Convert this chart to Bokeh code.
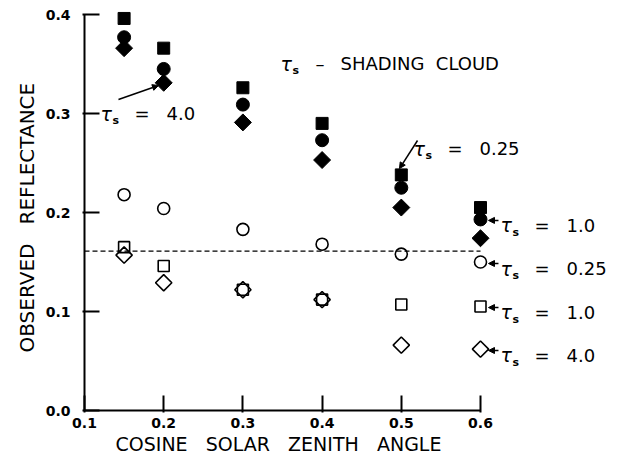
import numpy as np
from bokeh.plotting import figure
from bokeh.models import Range1d, FixedTicker, PrintfTickFormatter, Label, Arrow, NormalHead, Title
from bokeh.embed import file_html
from bokeh.resources import INLINE

# ---- data ----
cos_sza = [0.15, 0.2, 0.3, 0.4, 0.5, 0.6]
shaded_025 = [0.396, 0.366, 0.326, 0.290, 0.238, 0.205]   # filled squares
shaded_10 = [0.377, 0.345, 0.309, 0.273, 0.225, 0.193]    # filled circles
shaded_40 = [0.366, 0.331, 0.291, 0.253, 0.205, 0.174]    # filled diamonds
open_025 = [0.218, 0.204, 0.183, 0.168, 0.158, 0.150]     # open circles
open_10 = [0.165, 0.146, 0.122, 0.112, 0.107, 0.105]      # open squares
open_40 = [0.157, 0.129, 0.122, 0.112, 0.066, 0.062]      # open diamonds
ref_level = 0.161
x_ticks = [0.1, 0.2, 0.3, 0.4, 0.5, 0.6]
y_ticks = [0.0, 0.1, 0.2, 0.3, 0.4]
tau_values = ["0.25", "1.0", "4.0"]

FONT = "DejaVu Sans"
NB = "\u00a0"
PXX = 792.0   # px per x unit
PXY = 990.0   # px per y unit
W, H = 623, 456
FL, FB = 82, 412   # frame left / bottom in px

x0 = x_ticks[0] - 2 / PXX
x1 = x0 + (W - FL) / PXX
y0 = y_ticks[0] - 2 / PXY
y1 = y0 + FB / PXY

p = figure(width=W, height=H, output_backend="svg", toolbar_location=None,
           x_range=Range1d(x0, x1), y_range=Range1d(y0, y1),
           min_border_left=FL, min_border_right=0, min_border_top=0, min_border_bottom=H - FB)
p.outline_line_color = None
p.grid.visible = False

for ax, ticks in ((p.xaxis, x_ticks), (p.yaxis, y_ticks)):
    ax.ticker = FixedTicker(ticks=ticks)
    ax.bounds = (ticks[0], ticks[-1])
    ax.formatter = PrintfTickFormatter(format="%.1f")
    ax.axis_line_color = None
    ax.major_tick_in = 17
    ax.major_tick_out = 0
    ax.minor_tick_line_color = None
    ax.major_tick_line_width = 2
    ax.major_tick_line_color = "black"
    ax.major_label_text_font = FONT
    ax.major_label_text_font_style = "bold"
    ax.major_label_text_font_size = "14px"
    ax.major_label_text_color = "black"
p.yaxis.major_label_standoff = 12
p.xaxis.major_label_standoff = 5

# axis titles (as side-panel titles so they can be placed along the data span)
p.add_layout(Title(text=(NB * 3).join(["COSINE", "SOLAR", "ZENITH", "ANGLE"]), align="left", offset=33,
                   standoff=0, text_font=FONT, text_font_size="19px", text_font_style="normal",
                   text_color="black"), "below")
p.add_layout(Title(text=(NB * 3).join(["OBSERVED", "REFLECTANCE"]), align="left", offset=60,
                   standoff=8, text_font=FONT, text_font_size="20px", text_font_style="normal",
                   text_color="black"), "left")

# axis lines
p.segment(x0=[x_ticks[0], x_ticks[0]], y0=[y_ticks[0], y_ticks[0]],
          x1=[x_ticks[0], x_ticks[-1]], y1=[y_ticks[-1], y_ticks[0]],
          line_color="black", line_width=2)

# dashed reference line
p.line([x_ticks[0], x_ticks[-1]], [ref_level, ref_level], line_color="black",
       line_width=1.2, line_dash="5 3")

# markers
p.scatter(cos_sza, shaded_025, marker="square", size=12, color="black")
p.scatter(cos_sza, shaded_10, marker="circle", size=13, color="black")
p.scatter(cos_sza, shaded_40, marker="square", angle=np.pi / 4, size=12, color="black")
p.scatter(cos_sza, open_025, marker="circle", size=12, fill_color=None, line_color="black", line_width=1.6)
p.scatter(cos_sza, open_10, marker="square", size=11, fill_color=None, line_color="black", line_width=1.6)
p.scatter(cos_sza, open_40, marker="square", angle=np.pi / 4, size=11.5, fill_color=None, line_color="black", line_width=1.6)

# tau annotations: (x, baseline y, parts)
notes = [
    (0.3475, 0.3505, [(35, "–"), (60, "SHADING" + NB * 2 + "CLOUD")]),
    (0.1202, 0.300, [(34, "="), (66, tau_values[2])]),
    (0.5154, 0.2646, [(34, "="), (66, tau_values[0])]),
    (0.6253, 0.1869, [(34, "="), (66, tau_values[1])]),
    (0.6253, 0.1434, [(34, "="), (66, tau_values[0])]),
    (0.6253, 0.0990, [(34, "="), (66, tau_values[1])]),
    (0.6253, 0.0556, [(34, "="), (66, tau_values[2])]),
]
for nx, ny, parts in notes:
    p.add_layout(Label(x=nx, y=ny, text="τ", text_baseline="alphabetic", text_align="left",
                       text_font=FONT, text_font_style="italic", text_font_size="19px", text_color="black"))
    p.add_layout(Label(x=nx, y=ny, x_offset=12, y_offset=-7, text="s", text_baseline="alphabetic",
                       text_align="left", text_font=FONT, text_font_style="bold",
                       text_font_size="11px", text_color="black"))
    for off, t in parts:
        p.add_layout(Label(x=nx, y=ny, x_offset=off, text=t, text_baseline="alphabetic",
                           text_align="left", text_font=FONT, text_font_size="18px", text_color="black"))

# arrows: (x_start, y_start, x_end, y_end)
arrows = [
    (0.1429, 0.3141, 0.1934, 0.3283),
    (0.5205, 0.2727, 0.4977, 0.2444),
    (0.6227, 0.1920, 0.6101, 0.1920),
    (0.6227, 0.1485, 0.6101, 0.1485),
    (0.6227, 0.1040, 0.6101, 0.1040),
    (0.6227, 0.0606, 0.6101, 0.0606),
]
for xs, ys, xe, ye in arrows:
    p.add_layout(Arrow(x_start=xs, y_start=ys, x_end=xe, y_end=ye, line_width=1.5, line_color="black",
                       end=NormalHead(size=6, fill_color="black", line_color="black", line_width=1)))

open("out.html", "w").write(file_html(p, INLINE))
